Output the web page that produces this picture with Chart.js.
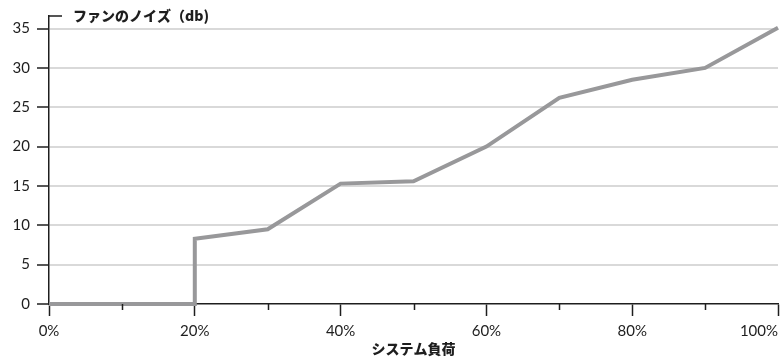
<!DOCTYPE html>
<html><head><meta charset="utf-8">
<script src="https://cdn.jsdelivr.net/npm/chart.js@4/dist/chart.umd.min.js"></script>
<style>html,body{margin:0;padding:0;background:#fff;}#wrap{width:782px;height:358px;position:relative;}</style>
</head><body><div id="wrap"><canvas id="c"></canvas></div>
<script>
const loadPct = [0, 20, 20, 30, 40, 50, 60, 70, 80, 90, 100];
const noiseDb = [0, 0, 8.3, 9.5, 15.3, 15.6, 20.0, 26.2, 28.5, 30.0, 35.1];
const xTickValues = [0, 20, 40, 60, 80, 100];
const xTickLabels = ['0%', '20%', '40%', '60%', '80%', '100%'];
const yTickValues = [0, 5, 10, 15, 20, 25, 30, 35];
const yTickLabels = ['0', '5', '10', '15', '20', '25', '30', '35'];
const yTitle = 'ファンのノイズ（db)';
const xTitle = 'システム負荷';

const INK = '#1e1e1e';
const TICK_FONT = {family: 'Lato, "Noto Sans", sans-serif', size: 15};
const JP_FONT = '"Noto Sans CJK JP", sans-serif';

const decor = {
  id: 'decor',
  afterDraw(chart) {
    const {ctx, chartArea: a, scales: {x, y}} = chart;
    ctx.save();
    ctx.strokeStyle = INK;
    ctx.lineWidth = 1.5;
    ctx.beginPath();
    y.ticks.forEach(t => {
      if (t.value % 5 !== 0) {
        const py = Math.round(y.getPixelForValue(t.value)) + 0.5;
        ctx.moveTo(a.left - 7, py); ctx.lineTo(a.left, py);
      }
    });
    x.ticks.forEach(t => {
      if (t.value % 20 !== 0) {
        const px = Math.round(x.getPixelForValue(t.value)) + 0.5;
        ctx.moveTo(px, a.bottom); ctx.lineTo(px, a.bottom + 6);
      }
    });
    ctx.moveTo(a.left - 0.75, a.top); ctx.lineTo(a.left + 13, a.top);
    ctx.stroke();
    ctx.fillStyle = INK;
    ctx.font = `${TICK_FONT.size}px ${TICK_FONT.family}`;
    ctx.textBaseline = 'middle';
    xTickValues.forEach((v, i) => {
      const px = x.getPixelForValue(v);
      const w = ctx.measureText(xTickLabels[i]).width;
      ctx.textAlign = (px + w / 2 > chart.width - 1) ? 'right' : 'center';
      ctx.fillText(xTickLabels[i], px, a.bottom + 27);
    });
    ctx.font = `900 14px ${JP_FONT}`;
    ctx.textAlign = 'left';
    ctx.fillText(yTitle, 73, 16);
    ctx.restore();
  }
};

new Chart(document.getElementById('c'), {
  type: 'line',
  data: {
    datasets: [{
      data: loadPct.map((v, i) => ({x: v, y: noiseDb[i]})),
      borderColor: '#98989a',
      borderWidth: 4,
      borderJoinStyle: 'miter',
      pointRadius: 0,
      tension: 0,
      fill: false,
      clip: false
    }]
  },
  options: {
    responsive: true,
    maintainAspectRatio: false,
    animation: false,
    layout: {padding: {top: 15, right: 4, left: 0, bottom: 0}},
    plugins: {legend: {display: false}, tooltip: {enabled: false}},
    scales: {
      x: {
        type: 'linear', min: 0, max: 100,
        ticks: {stepSize: 10, display: false},
        grid: {
          drawOnChartArea: false, drawTicks: true, tickLength: 12, tickWidth: 1.5,
          tickColor: c => (c.tick && c.tick.value % 20 === 0) ? INK : 'rgba(0,0,0,0)'
        },
        border: {display: true, color: INK, width: 1.5},
        title: {display: true, text: xTitle, color: INK,
          font: {family: JP_FONT, size: 14, weight: '900'}, padding: {top: 0, bottom: 1}},
        afterFit: s => { s.height = 54; }
      },
      y: {
        type: 'linear', min: 0, max: 36.6,
        ticks: {
          stepSize: 2.5, includeBounds: false, padding: 7, color: INK, font: TICK_FONT,
          callback: v => { const i = yTickValues.indexOf(v); return i >= 0 ? yTickLabels[i] : ''; }
        },
        grid: {
          color: c => (c.tick && c.tick.value > 0) ? '#d9d9d9' : 'rgba(0,0,0,0)',
          lineWidth: 2,
          drawTicks: true, tickLength: 12, tickWidth: 1.5,
          tickColor: c => (c.tick && c.tick.value % 5 === 0) ? INK : 'rgba(0,0,0,0)'
        },
        border: {display: true, color: INK, width: 1.5},
        afterFit: s => { s.width = 49; }
      }
    }
  },
  plugins: [decor]
});
</script></body></html>
